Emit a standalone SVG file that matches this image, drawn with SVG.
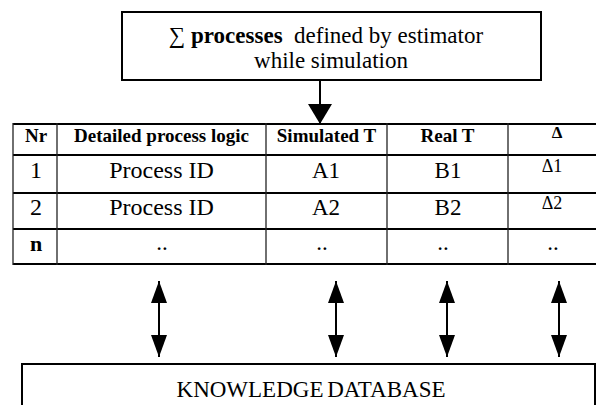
<svg xmlns="http://www.w3.org/2000/svg" width="596" height="405" viewBox="0 0 596 405" font-family="'Liberation Serif', 'Times New Roman', serif">
<style>
text{font-family:'Liberation Serif','Times New Roman',serif;fill:#000;text-anchor:middle}
.box{fill:#fff;stroke:#000;stroke-width:2}
.h{stroke:#000;stroke-width:2}
.v{stroke:#222;stroke-width:1.3}
.hd{font-weight:bold;font-size:19px}
.c{font-size:23px}
.d{font-size:18px}
.shaft{stroke:#000;stroke-width:2;fill:none}
</style>
<defs>
<marker id="ahs" viewBox="0 0 22 16" refX="22" refY="8" markerWidth="22" markerHeight="16" markerUnits="userSpaceOnUse" orient="auto-start-reverse">
<path d="M0,0 L22,8 L0,16 Z" fill="#000"/>
</marker>
<marker id="ahb" viewBox="0 0 20 24" refX="20" refY="12" markerWidth="20" markerHeight="24" markerUnits="userSpaceOnUse" orient="auto">
<path d="M0,0 L20,12 L0,24 Z" fill="#000"/>
</marker>
</defs>

<g id="estimator">
<rect class="box" x="122" y="12" width="419" height="68"/>
<text x="326" y="43" font-size="23"><tspan>∑ </tspan><tspan font-weight="bold">processes</tspan><tspan xml:space="preserve">  defined by estimator</tspan></text>
<text x="331" y="68" font-size="23">while simulation</text>
</g>

<g id="table">
<line class="h" x1="13" y1="124" x2="596" y2="124"/>
<line class="h" x1="13" y1="155" x2="596" y2="155"/>
<line class="h" x1="13" y1="193" x2="596" y2="193"/>
<line class="h" x1="13" y1="229" x2="596" y2="229"/>
<line class="h" x1="13" y1="264" x2="596" y2="264"/>
<line class="v" x1="13" y1="123" x2="13" y2="265"/>
<line class="v" x1="57" y1="123" x2="57" y2="265"/>
<line class="v" x1="266" y1="123" x2="266" y2="265"/>
<line class="v" x1="387" y1="123" x2="387" y2="265"/>
<line class="v" x1="508" y1="123" x2="508" y2="265"/>
<text class="hd" x="36" y="142">Nr</text>
<text class="hd" x="161.5" y="142">Detailed process logic</text>
<text class="hd" x="326.5" y="142">Simulated T</text>
<text class="hd" x="447.5" y="142">Real T</text>
<text x="557" y="138" font-size="17" font-weight="bold">Δ</text>
<text x="36" y="178" font-size="24">1</text>
<text x="161.5" y="178" font-size="24">Process ID</text>
<text class="c" x="326" y="178">A1</text>
<text class="c" x="448" y="178">B1</text>
<text class="d" x="552" y="172">Δ1</text>
<text x="36" y="215" font-size="24">2</text>
<text x="161.5" y="215" font-size="24">Process ID</text>
<text class="c" x="326" y="215">A2</text>
<text class="c" x="448" y="215">B2</text>
<text class="d" x="552" y="209">Δ2</text>
<text x="36" y="251" font-size="22" font-weight="bold">n</text>
<text class="c" x="162" y="250">..</text>
<text class="c" x="322" y="250">..</text>
<text class="c" x="443" y="250">..</text>
<text class="c" x="553" y="250">..</text>
</g>

<g id="knowledge-database">
<rect class="box" x="22" y="364" width="573" height="60"/>
<text x="311" y="397" font-size="23" word-spacing="-2">KNOWLEDGE DATABASE</text>
</g>

<g id="connectors">
<line class="shaft" x1="320" y1="80" x2="320" y2="124" marker-end="url(#ahb)"/>
<line class="shaft" x1="159" y1="281" x2="159" y2="357" marker-start="url(#ahs)" marker-end="url(#ahs)"/>
<line class="shaft" x1="336" y1="281" x2="336" y2="357" marker-start="url(#ahs)" marker-end="url(#ahs)"/>
<line class="shaft" x1="447" y1="281" x2="447" y2="357" marker-start="url(#ahs)" marker-end="url(#ahs)"/>
<line class="shaft" x1="559" y1="281" x2="559" y2="357" marker-start="url(#ahs)" marker-end="url(#ahs)"/>
</g>
</svg>
